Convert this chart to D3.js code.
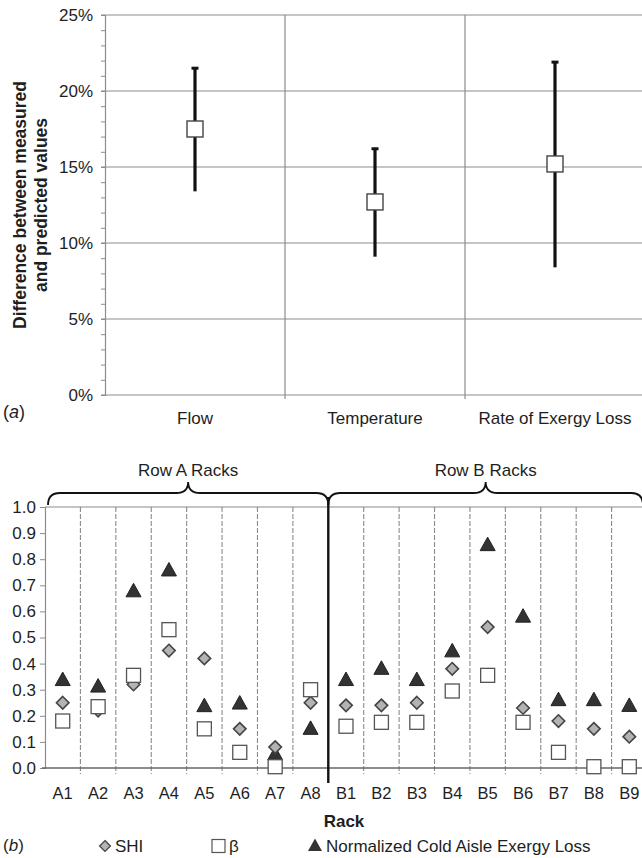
<!DOCTYPE html>
<html>
<head>
<meta charset="utf-8">
<script src="https://cdn.jsdelivr.net/npm/d3@7"></script>
<style>
  html, body { margin: 0; padding: 0; background: #fff; }
  svg { display: block; font-family: "Liberation Sans", Arial, sans-serif; }
</style>
</head>
<body>
<svg id="chart" width="642" height="858"></svg>
<script>
// ---- Panel (a): prediction error ----
const errCategories = ["Flow", "Temperature", "Rate of Exergy Loss"];
const errMean = [0.175, 0.127, 0.152];
const errLow  = [0.134, 0.091, 0.084];
const errHigh = [0.215, 0.162, 0.219];
const errTicks = [0, 0.05, 0.10, 0.15, 0.20, 0.25];

// ---- Panel (b): per-rack metrics ----
const racks = ["A1","A2","A3","A4","A5","A6","A7","A8",
               "B1","B2","B3","B4","B5","B6","B7","B8","B9"];
const shi  = [0.25, 0.22, 0.32, 0.45, 0.42, 0.15, 0.08, 0.25,
              0.24, 0.24, 0.25, 0.38, 0.54, 0.23, 0.18, 0.15, 0.12];
const beta = [0.18, 0.235, 0.355, 0.53, 0.15, 0.06, 0.005, 0.30,
              0.16, 0.175, 0.175, 0.295, 0.355, 0.175, 0.06, 0.005, 0.005];
const exergy = [0.335, 0.31, 0.675, 0.755, 0.235, 0.245, 0.05, 0.148,
                0.335, 0.378, 0.335, 0.445, 0.852, 0.578, 0.258, 0.258, 0.236];
const rackTicks = [0, 0.1, 0.2, 0.3, 0.4, 0.5, 0.6, 0.7, 0.8, 0.9, 1.0];
const groups = [
  { label: "Row A Racks", from: "A1", to: "A8" },
  { label: "Row B Racks", from: "B1", to: "B9" }
];

const svg = d3.select("#chart");
const gridColor = "#8c8c8c";
const textColor = "#1e1e1e";

// =========== Panel (a) ===========
const ax = d3.scaleBand().domain(errCategories).range([105, 645]);
const ay = d3.scaleLinear().domain([0, 0.25]).range([395, 15]);
const pa = svg.append("g");

// horizontal gridlines
pa.selectAll("line.hg").data(errTicks).join("line")
  .attr("x1", 101).attr("x2", 645)
  .attr("y1", d => ay(d)).attr("y2", d => ay(d))
  .attr("stroke", gridColor).attr("stroke-width", 1.2);

// vertical category separators
const sepA = errCategories.slice(1).map(c => ax(c));
pa.selectAll("line.vg").data(sepA).join("line")
  .attr("x1", d => d).attr("x2", d => d)
  .attr("y1", ay(0.25)).attr("y2", ay(0) + 4)
  .attr("stroke", gridColor).attr("stroke-width", 1.2);

// y axis with minor ticks every 1%
const yAxisA = d3.axisLeft(ay).tickValues(d3.range(0, 0.2501, 0.01))
  .tickSize(4).tickFormat("");
const gYA = pa.append("g").attr("transform", "translate(105,0)").call(yAxisA);
gYA.select(".domain").attr("stroke", gridColor).attr("stroke-width", 1.2);
gYA.selectAll(".tick line").attr("stroke", gridColor);

pa.selectAll("text.yl").data(errTicks).join("text")
  .attr("x", 93).attr("y", d => ay(d)).attr("dy", "0.35em")
  .attr("text-anchor", "end").attr("font-size", 17).attr("fill", textColor)
  .text(d => d3.format(".0%")(d));

// category labels
pa.selectAll("text.xl").data(errCategories).join("text")
  .attr("x", d => ax(d) + ax.bandwidth() / 2).attr("y", 418).attr("dy", "0.35em")
  .attr("text-anchor", "middle").attr("font-size", 17).attr("fill", textColor)
  .text(d => d);

// y title
const yt = pa.append("text").attr("transform", "translate(26,205) rotate(-90)")
  .attr("text-anchor", "middle").attr("font-size", 17.5).attr("font-weight", "bold").attr("fill", textColor);
yt.append("tspan").attr("x", 0).attr("dy", 0).text("Difference between measured");
yt.append("tspan").attr("x", 0).attr("dy", 21).text("and predicted values");

pa.append("text").attr("x", 3).attr("y", 412).attr("dy", "0.35em").attr("font-size", 18).attr("fill", textColor)
  .html('(<tspan font-style="italic">a</tspan>)');

// error bars
const errData = errCategories.map((c, i) => ({ c, m: errMean[i], lo: errLow[i], hi: errHigh[i] }));
const eb = pa.selectAll("g.eb").data(errData).join("g")
  .attr("transform", d => `translate(${ax(d.c) + ax.bandwidth() / 2},0)`);
eb.append("line").attr("x1", 0).attr("x2", 0)
  .attr("y1", d => ay(d.lo)).attr("y2", d => ay(d.hi))
  .attr("stroke", "#111").attr("stroke-width", 3.2);
eb.append("line").attr("x1", -3.5).attr("x2", 3.5)
  .attr("y1", d => ay(d.hi)).attr("y2", d => ay(d.hi))
  .attr("stroke", "#111").attr("stroke-width", 3);
eb.append("rect").attr("x", -8).attr("y", d => ay(d.m) - 8)
  .attr("width", 16).attr("height", 16)
  .attr("fill", "#fff").attr("stroke", "#444").attr("stroke-width", 1.4);

// =========== Panel (b) ===========
const bx = d3.scaleBand().domain(racks).range([45, 647]);
const by = d3.scaleLinear().domain([0, 1]).range([768, 507]);
const pb = svg.append("g");

// top border line
pb.append("line").attr("x1", 45).attr("x2", 647)
  .attr("y1", by(1)).attr("y2", by(1))
  .attr("stroke", gridColor).attr("stroke-width", 1.2);

// rack separators (dashed); the row divider is drawn separately
const sepB = racks.slice(1).map(r => ({ x: bx(r), divider: r === "B1" }));
pb.selectAll("line.rs").data(sepB.filter(d => !d.divider)).join("line")
  .attr("x1", d => d.x).attr("x2", d => d.x)
  .attr("y1", by(1)).attr("y2", by(0) + 6)
  .attr("stroke", "#8a8a8a").attr("stroke-width", 1.1)
  .attr("stroke-dasharray", "5,2");

// y axis
const yAxisB = d3.axisLeft(by).tickValues(rackTicks).tickSize(5).tickFormat(d3.format(".1f"));
const gYB = pb.append("g").attr("transform", "translate(45,0)").call(yAxisB);
gYB.select(".domain").attr("stroke", gridColor).attr("stroke-width", 1.2);
gYB.selectAll(".tick line").attr("stroke", gridColor);
gYB.selectAll(".tick text").attr("font-size", 17).attr("fill", textColor)
  .attr("font-family", "Liberation Sans, Arial, sans-serif").attr("x", -9);

// x axis baseline
pb.append("line").attr("x1", 42).attr("x2", 647)
  .attr("y1", by(0)).attr("y2", by(0))
  .attr("stroke", "#666").attr("stroke-width", 1.4);

pb.selectAll("text.rl").data(racks).join("text")
  .attr("x", d => bx(d) + bx.bandwidth() / 2).attr("y", 793).attr("dy", "0.35em")
  .attr("text-anchor", "middle").attr("font-size", 16.5).attr("fill", textColor)
  .text(d => d);

pb.append("text").attr("x", bx("B1") + bx.bandwidth() / 2 - 2).attr("y", 821).attr("dy", "0.35em")
  .attr("text-anchor", "middle").attr("font-size", 17).attr("font-weight", "bold").attr("fill", textColor)
  .text("Rack");

// group braces and labels
const braceY = 493, braceTip = 482, braceEnd = 505;
function bracePath(x0, x1) {
  const xm = (x0 + x1) / 2, r = 12;
  return `M${x0},${braceEnd} Q${x0},${braceY} ${x0 + r},${braceY}`
       + ` L${xm - r},${braceY} Q${xm},${braceY} ${xm},${braceTip}`
       + ` Q${xm},${braceY} ${xm + r},${braceY}`
       + ` L${x1 - r},${braceY} Q${x1},${braceY} ${x1},${braceEnd}`;
}
groups.forEach(g => {
  const x0 = g.from === "A1" ? bx(g.from) + 3 : bx(g.from);
  const x1 = g.to === "A8" ? bx(g.to) + bx.bandwidth() : bx(g.to) + bx.bandwidth() - 4;
  pb.append("path").attr("d", bracePath(x0, x1))
    .attr("fill", "none").attr("stroke", "#111").attr("stroke-width", 1.8);
  pb.append("text").attr("x", (x0 + x1) / 2).attr("y", 470).attr("dy", "0.35em")
    .attr("text-anchor", "middle").attr("font-size", 17).attr("fill", textColor)
    .text(g.label);
});

// heavy divider between row A and row B
const divX = bx("B1");
pb.append("line").attr("x1", divX).attr("x2", divX)
  .attr("y1", braceY + 4).attr("y2", 783)
  .attr("stroke", "#111").attr("stroke-width", 2.4);

// markers
const cx = r => bx(r) + bx.bandwidth() / 2;
const diamond = d3.symbol().type(d3.symbolDiamond2).size(100);
const tri = "M0,-8.5 L7.5,5 L-7.5,5 Z";

pb.selectAll("path.tri").data(racks).join("path")
  .attr("d", tri)
  .attr("transform", (r, i) => `translate(${cx(r)},${by(exergy[i])})`)
  .attr("fill", "#333").attr("stroke", "#222").attr("stroke-width", 1);

pb.selectAll("path.dia").data(racks).join("path")
  .attr("d", diamond)
  .attr("transform", (r, i) => `translate(${cx(r)},${by(shi[i])})`)
  .attr("fill", "#b3b3b3").attr("stroke", "#444").attr("stroke-width", 1.6);

pb.selectAll("rect.sq").data(racks).join("rect")
  .attr("x", r => cx(r) - 7).attr("y", (r, i) => by(beta[i]) - 7)
  .attr("width", 14).attr("height", 14)
  .attr("fill", "#fff").attr("stroke", "#555").attr("stroke-width", 1.3);

// legend
const ly = 846;
pb.append("text").attr("x", 3).attr("y", ly - 1).attr("dy", "0.35em").attr("font-size", 17).attr("fill", textColor)
  .html('(<tspan font-style="italic">b</tspan>)');
pb.append("path").attr("d", d3.symbol().type(d3.symbolDiamond2).size(75))
  .attr("transform", `translate(105,${ly})`)
  .attr("fill", "#b3b3b3").attr("stroke", "#444").attr("stroke-width", 1.3);
pb.append("text").attr("x", 115).attr("y", ly).attr("dy", "0.35em").attr("font-size", 17).attr("fill", textColor).text("SHI");
pb.append("rect").attr("x", 212).attr("y", ly - 6.5).attr("width", 13).attr("height", 13)
  .attr("fill", "#fff").attr("stroke", "#555").attr("stroke-width", 1.2);
pb.append("text").attr("x", 229).attr("y", ly).attr("dy", "0.35em").attr("font-size", 17).attr("fill", textColor).text("β");
pb.append("path").attr("d", "M0,-7.5 L7,5 L-7,5 Z")
  .attr("transform", `translate(315,${ly})`).attr("fill", "#333");
pb.append("text").attr("x", 326).attr("y", ly).attr("dy", "0.35em").attr("font-size", 17).attr("fill", textColor)
  .text("Normalized Cold Aisle Exergy Loss");
</script>
</body>
</html>
